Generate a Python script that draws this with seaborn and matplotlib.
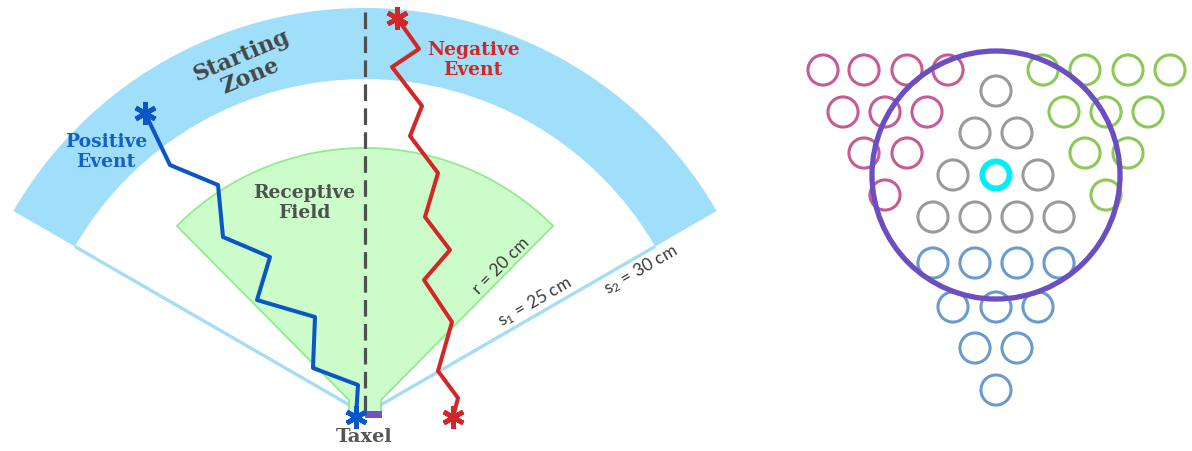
import numpy as np
import pandas as pd
import matplotlib.pyplot as plt
from matplotlib.patches import Wedge, Circle, Polygon, Rectangle
import seaborn as sns

# Geometría del diagrama (pixeles de la imagen)
taxel = (365, 414)
s1_radius = 335
s2_radius = 406
r_radius = 266
zone_half_angle = 60
field_half_angle = 45

# Trayectorias de los eventos
pos_x = [145, 170, 218, 223, 270, 257, 315, 313, 358, 356]
pos_y = [113, 165, 185, 237, 257, 300, 317, 368, 385, 417]
neg_x = [397, 419, 392, 422, 410, 438, 425, 450, 424, 452, 438, 458, 453]
neg_y = [18, 49, 67, 106, 136, 173, 217, 250, 280, 322, 371, 398, 417]

# Taxels vecinos (derecha)
gray_x = [996, 975, 1017, 953, 1038, 933, 975, 1017, 1059]
gray_y = [91, 133, 133, 175, 175, 217, 217, 217, 217]
blue_x = [933, 975, 1017, 1059, 953, 996, 1038, 975, 1017, 996]
blue_y = [263, 263, 263, 263, 307, 307, 307, 348, 348, 390]
pink_x = [823, 864, 907, 948, 843, 885, 927, 864, 907, 885]
pink_y = [70, 70, 70, 70, 112, 112, 112, 153, 153, 195]
green_x = [1043, 1085, 1128, 1170, 1064, 1106, 1148, 1085, 1128, 1106]
green_y = [70, 70, 70, 70, 112, 112, 112, 153, 153, 195]
center_taxel = (996, 175)
field_circle_radius = 124

palette = {"gray": "#9a9a9a", "blue": "#6a9bd0", "pink": "#c75b93", "green": "#8dc858"}

sns.set_theme(style="white")
plt.rcParams["mathtext.default"] = "regular"

fig = plt.figure(figsize=(11.92, 4.51), dpi=100)
ax = fig.add_axes([0, 0, 1, 1])

cx, cy = taxel
# Zona de inicio
ax.add_patch(Wedge(taxel, s2_radius, 270 - zone_half_angle, 270 + zone_half_angle,
                   width=s2_radius - s1_radius, color="#9fdff9", lw=0, zorder=1))
for a in [270 - zone_half_angle, 270 + zone_half_angle]:
    t = np.deg2rad(a)
    ax.plot([cx, cx + s1_radius * np.cos(t)], [cy, cy + s1_radius * np.sin(t)],
            color="#a6dcf6", lw=2.4, zorder=1, solid_capstyle="butt")

# Campo receptivo
th = np.deg2rad(np.linspace(270 - field_half_angle, 270 + field_half_angle, 80))
arc = np.column_stack([cx + r_radius * np.cos(th), cy + r_radius * np.sin(th)])
stem = 16
pts = np.vstack([[cx - stem, cy - 1], [cx - stem, cy - 14], arc,
                 [cx + stem, cy - 14], [cx + stem, cy - 1]])
ax.add_patch(Polygon(pts, closed=True, fc="#ccfcca", ec="#90ec8c", lw=1.3, zorder=2))

# Eje vertical
ax.plot([cx, cx], [12, cy - 2], color="#505050", lw=2.3, dashes=(5.2, 2.3), zorder=3)

# Trayectorias
sns.lineplot(x=pos_x, y=pos_y, sort=False, estimator=None, color="#0b56c6", lw=2.9, ax=ax, zorder=4)
sns.lineplot(x=neg_x, y=neg_y, sort=False, estimator=None, color="#d32626", lw=2.9, ax=ax, zorder=4)

ax.add_patch(Rectangle((cx, cy - 3), 17, 7, color="#7052c4", lw=0, zorder=5))
star = (6, 2, 0)
ax.plot([pos_x[0], pos_x[-1]], [pos_y[0], pos_y[-1]], ls="none", marker=star,
        ms=16, mew=3.4, color="#0b56c6", zorder=6)
ax.plot([neg_x[0], neg_x[-1]], [neg_y[0], neg_y[-1]], ls="none", marker=star,
        ms=16, mew=3.4, color="#d32626", zorder=6)

serif = dict(family="DejaVu Serif", weight="bold", ha="center", va="center", zorder=7)
ax.text(246, 66, "Starting\nZone", fontsize=16, color="#464646", rotation=23,
        linespacing=1.0, **serif)
ax.text(106, 152, "Positive\nEvent", fontsize=13.5, color="#1560c8", linespacing=1.1, **serif)
ax.text(304, 203, "Receptive\nField", fontsize=13.5, color="#4e524e", linespacing=1.1, **serif)
ax.text(473, 60, "Negative\nEvent", fontsize=13.5, color="#d32626", linespacing=1.1, **serif)
ax.text(364, 437, "Taxel", fontsize=14, color="#555555", **serif)

sans = dict(family="Lato", ha="center", va="center", color="#3a3a3a", fontsize=12.5, zorder=7)
ax.text(501, 266, "r = 20 cm", rotation=45, **sans)
ax.text(535, 302, "s$_1$ = 25 cm", rotation=30, **sans)
ax.text(641, 270, "s$_2$ = 30 cm", rotation=30, **sans)

# Panel derecho: taxels
df = pd.concat([
    pd.DataFrame({"x": gray_x, "y": gray_y, "grupo": "gray"}),
    pd.DataFrame({"x": blue_x, "y": blue_y, "grupo": "blue"}),
    pd.DataFrame({"x": pink_x, "y": pink_y, "grupo": "pink"}),
    pd.DataFrame({"x": green_x, "y": green_y, "grupo": "green"}),
])
sns.scatterplot(data=df, x="x", y="y", hue="grupo", palette=palette, s=470,
                linewidth=2.2, legend=False, ax=ax, zorder=3)
coll = ax.collections[-1]
coll.set_edgecolors(coll.get_facecolors())
coll.set_facecolors("none")

ax.scatter([center_taxel[0]], [center_taxel[1]], s=380, facecolors="none",
           edgecolors="#00eef6", linewidths=4.3, zorder=4)
ax.add_patch(Circle(center_taxel, field_circle_radius, fill=False, ec="#6b4fc2", lw=3.8, zorder=5))

ax.set_xlim(0, 1192)
ax.set_ylim(451, 0)
ax.set_xlabel("")
ax.set_ylabel("")
ax.axis("off")

fig.savefig("out.png", dpi=100)
